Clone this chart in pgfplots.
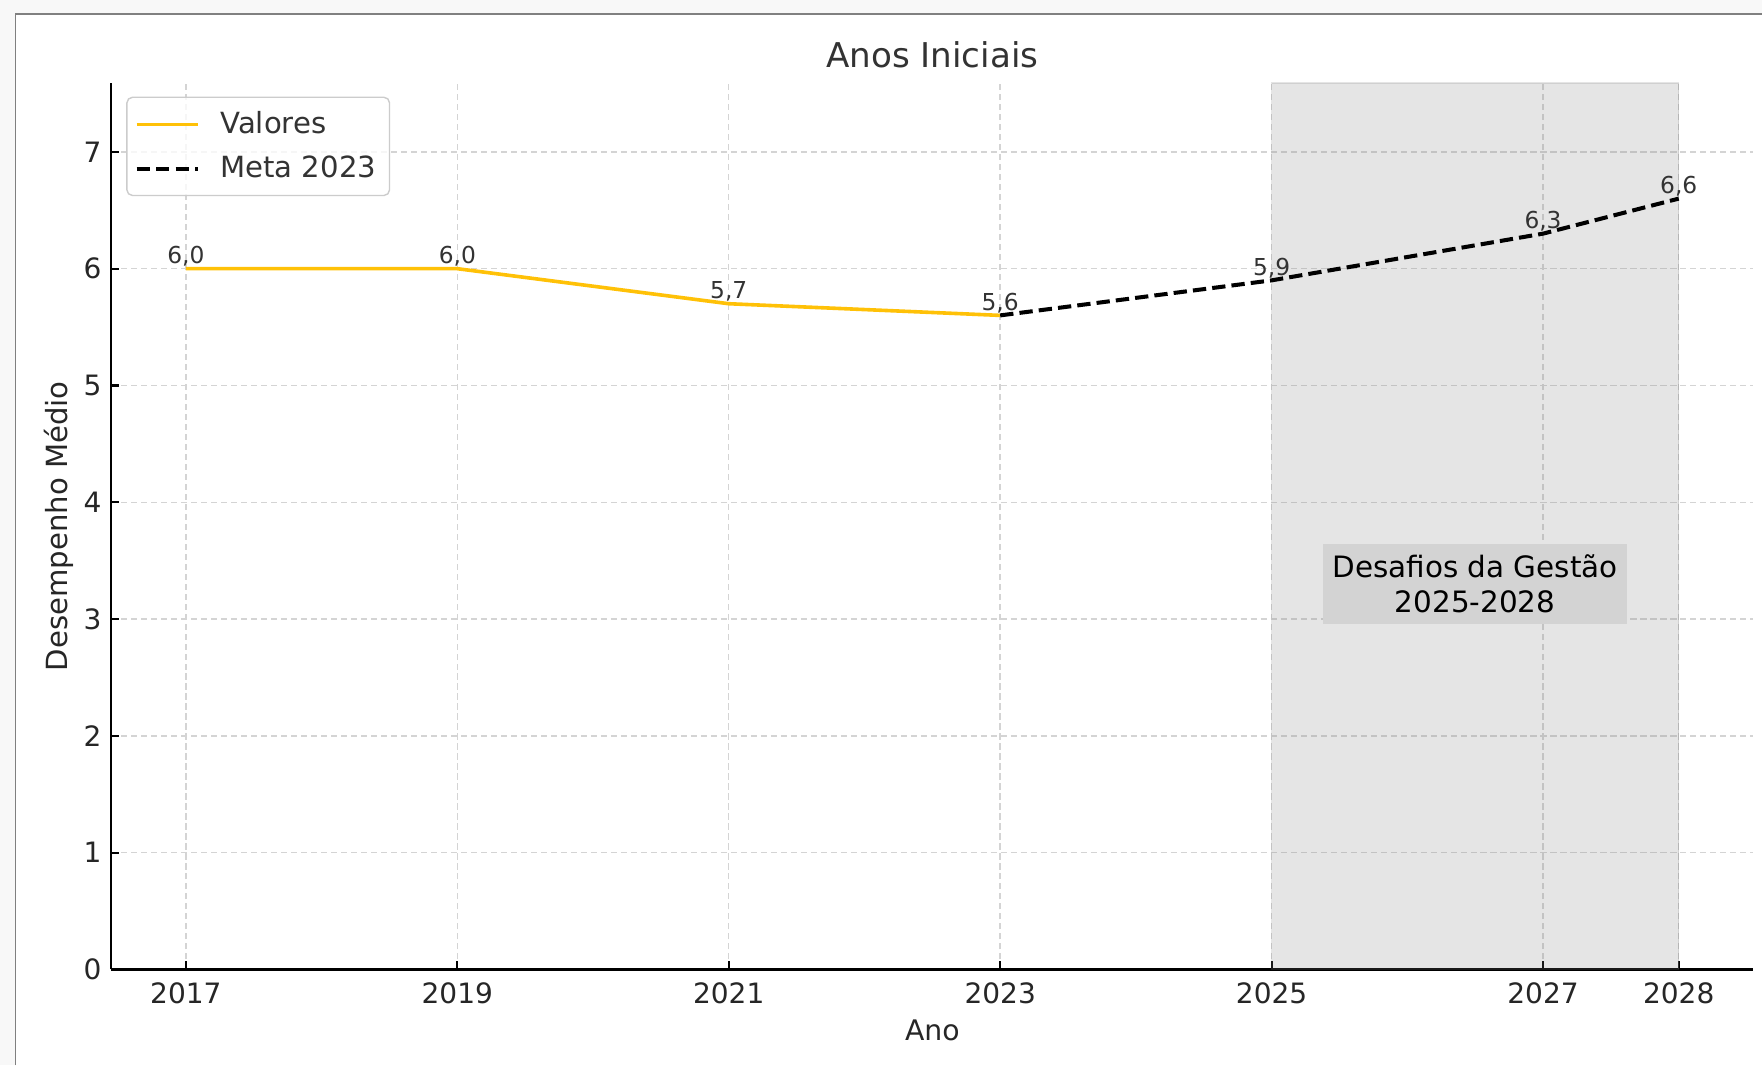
\documentclass[border=0pt]{standalone}
\usepackage{fontspec}
\setmainfont{DejaVu Sans}
\usepackage{pgfplots}
\pgfplotsset{compat=1.18}

\definecolor{amber}{RGB}{255,193,7}
\definecolor{txt}{RGB}{51,51,51}
\definecolor{gridc}{RGB}{212,212,212}
\definecolor{boxc}{RGB}{211,211,211}
\definecolor{bgc}{RGB}{248,248,248}
\definecolor{framec}{RGB}{128,128,128}
\definecolor{legc}{RGB}{204,204,204}

\begin{document}
\begin{tikzpicture}
% page 1763 x 1066 px, 0.36pt per px
\fill[bgc] (0,0) rectangle (634.68pt,383.76pt);
\fill[white] (5.58pt,0) rectangle (634.68pt,378.54pt);
\draw[framec, line width=0.7pt] (5.58pt,0) -- (5.58pt,378.54pt) -- (634.68pt,378.54pt);
\useasboundingbox (0,0) rectangle (634.68pt,383.76pt);

\begin{axis}[
  at={(40.07pt,34.56pt)}, anchor=south west,
  scale only axis, width=591.5pt, height=319.3pt,
  xmin=2016.45, xmax=2028.55, ymin=0, ymax=7.59,
  axis lines*=left,
  axis line style={line width=0.9pt, black},
  tick align=inside, major tick length=2.9pt,
  tick style={line width=0.8pt, black},
  xtick={2017,2019,2021,2023,2025,2027,2028},
  ytick={0,1,...,7},
  /pgf/number format/1000 sep={},
  /pgf/number format/assume math mode=true,
  tick label style={font=\fontsize{10.1}{12}\selectfont, text=black!85},
  xticklabel style={inner sep=0pt, yshift=-4.7pt},
  grid=major,
  grid style={gridc, line width=0.5pt, dash pattern=on 2.2pt off 1.4pt},
  title={Anos Iniciais},
  title style={font=\fontsize{12.3}{14}\selectfont, text=txt,
    at={(axis description cs:0.5,1)}, anchor=base, yshift=-0.5pt},
  xlabel={Ano},
  xlabel style={font=\fontsize{10.2}{12}\selectfont, text=black!85,
    at={(axis description cs:0.5,-0.0689)}, anchor=center},
  ylabel={Desempenho Médio},
  ylabel style={font=\fontsize{10.5}{12}\selectfont, text=black!85,
    at={(axis description cs:-0.0321,0.5)}, anchor=center},
  legend style={at={(axis description cs:0,1)}, anchor=north west,
    xshift=5.4pt, yshift=-4.9pt, draw=legc, line width=0.5pt,
    fill=white, fill opacity=0.8, text opacity=1, draw opacity=1,
    rounded corners=2pt, inner xsep=2.8pt, inner ysep=5pt,
    row sep=6.6pt, column sep=7.4pt, nodes={inner sep=0pt},
    font=\fontsize{10.5}{12}\selectfont, text=txt},
  legend cell align=left,
  legend image code/.code={\draw[#1] (0pt,0pt) -- (22pt,0pt);},
]

% faixa 2025-2028
\addplot[fill=gray, fill opacity=0.2, draw=gray, draw opacity=0.2, forget plot]
  coordinates {(2025,7.59) (2028,7.59)} \closedcycle;

\addplot[amber, line width=1.3pt, mark=none] coordinates {
  (2017,6.0) (2019,6.0) (2021,5.7) (2023,5.6)
};
\addlegendentry{Valores}

\addplot[black, line width=1.45pt, mark=none, dash pattern=on 4.8pt off 2.2pt] coordinates {
  (2023,5.6) (2025,5.9) (2027,6.3) (2028,6.6)
};
\addlegendentry{Meta 2023\kern2pt}

% rotulos
\addplot[draw=none, mark=none, forget plot, nodes near coords, point meta=explicit symbolic,
  every node near coord/.append style={anchor=base, yshift=1.8pt,
    font=\fontsize{8.4}{10}\selectfont, text=txt}] coordinates {
  (2017,6.0) [6,0]
  (2019,6.0) [6,0]
  (2021,5.7) [5,7]
  (2023,5.6) [5,6]
  (2025,5.9) [5,9]
  (2027,6.3) [6,3]
  (2028,6.6) [6,6]
};

\node[fill=boxc, text=black, font=\fontsize{10.6}{12.6}\selectfont, align=center,
  inner xsep=3.4pt, inner ysep=4pt] at (axis cs:2026.5,3.3)
  {Desafios da Gestão\\2025-2028};
\end{axis}
\end{tikzpicture}
\end{document}
